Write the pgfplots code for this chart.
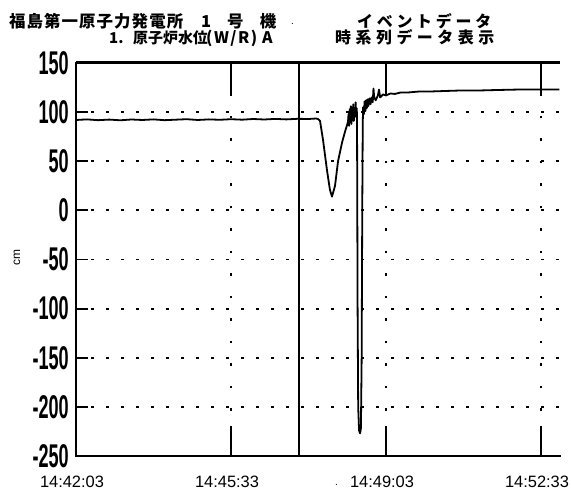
\documentclass[border=0pt]{standalone}
\usepackage{fontspec}
\setmainfont{Liberation Sans}
\newfontfamily\cjk{Noto Sans CJK JP}
\usepackage{pgfplots}
\pgfplotsset{compat=1.18}
\begin{document}
\begin{tikzpicture}
\useasboundingbox (0,0) rectangle (571bp,491bp);
% titles
\node[anchor=base west,inner sep=0pt] at (9bp,463bp) {\cjk\bfseries\fontsize{16.5}{16.5}\selectfont\makebox[174bp][s]{福\hfill 島\hfill 第\hfill 一\hfill 原\hfill 子\hfill 力\hfill 発\hfill 電\hfill 所}};
\node[anchor=base west,inner sep=0pt] at (201bp,463bp) {\cjk\bfseries\fontsize{16.5}{16.5}\selectfont 1};
\node[anchor=base west,inner sep=0pt] at (227bp,463bp) {\cjk\bfseries\fontsize{16.5}{16.5}\selectfont\makebox[49bp][s]{号\hfill 機}};
\node[anchor=base west,inner sep=0pt] at (291bp,466bp) {\fontsize{10}{10}\selectfont .};
\node[anchor=base west,inner sep=0pt] at (357bp,463bp) {\cjk\bfseries\fontsize{16}{16}\selectfont\makebox[134bp][s]{イ\hfill ベ\hfill ン\hfill ト\hfill デ\hfill ー\hfill タ}};
\node[anchor=base west,inner sep=0pt] at (109bp,447bp) {\cjk\bfseries\fontsize{15}{15}\selectfont 1.};
\node[anchor=base west,inner sep=0pt] at (133bp,447bp) {\cjk\bfseries\fontsize{15}{15}\selectfont\makebox[68bp][s]{原\hfill 子\hfill 炉\hfill 水\hfill 位}};
\node[anchor=base west,inner sep=0pt] at (206bp,447bp) {\cjk\bfseries\fontsize{16}{16}\selectfont\makebox[51bp][s]{(\hfill W\hfill /\hfill R\hfill )}};
\node[anchor=base west,inner sep=0pt] at (262bp,447bp) {\cjk\bfseries\fontsize{16}{16}\selectfont A};
\node[anchor=base west,inner sep=0pt] at (335bp,447bp) {\cjk\bfseries\fontsize{16}{16}\selectfont\makebox[159bp][s]{時\hfill 系\hfill 列\hfill デ\hfill ー\hfill タ\hfill 表\hfill 示}};
% y label
\node[rotate=90,inner sep=0pt] at (17bp,233bp) {\fontsize{12}{12}\selectfont cm};
\node[anchor=base west,inner sep=0pt] at (335bp,6bp) {\fontsize{10}{10}\selectfont .};
\begin{axis}[
  at={(76bp,35bp)}, anchor=south west,
  width=484bp, height=393bp, scale only axis,
  xmin=0, xmax=655.7, ymin=-250, ymax=150,
  axis line style={draw=none},
  xtick={0,210,420,630},
  xticklabels={14:42:03,14:45:33,14:49:03,14:52:33},
  xtick pos=both,
  ytick={-250,-200,-150,-100,-50,0,50,100,150},
  ytick pos=left,
  xtick style={/pgfplots/major tick length=30bp, line width=1.8bp, black},
  ytick style={/pgfplots/major tick length=12bp, line width=1.8bp, black},
  grid=major,
  major x grid style={line width=1.8bp, black, dash pattern=on 2.5bp off 20bp},
  major y grid style={line width=1.8bp, black, dash pattern=on 2.5bp off 12.5bp},
  xticklabel style={font=\fontsize{16.5}{16.5}\selectfont, xshift=-4bp, inner sep=0pt, yshift=-20bp},
  yticklabel={\scalebox{0.55}[1]{\fontsize{33}{33}\selectfont\bfseries\pgfmathprintnumber[assume math mode=true]{\tick}}},
  yticklabel style={inner xsep=0pt, xshift=-7bp},
  clip=false,
]
\draw[line width=2.5bp, line cap=rect] (rel axis cs:0,1) -- (rel axis cs:0,0) -- (rel axis cs:1,0);
\draw[line width=3bp] (rel axis cs:0,1) -- (rel axis cs:1,1);
\addplot[black, line width=1.6bp, forget plot] coordinates {(302,-250) (302,150)};
\addplot[black, line width=1.8bp, line join=round] coordinates {
(0,92) (15,92.6) (30,91.8) (45,92.4) (60,91.7) (75,92.5) (90,92) (105,92.6) (120,91.8)
(135,92.3) (150,92.8) (165,92) (180,92.6) (195,92.2) (210,92.8) (225,92.3) (240,93)
(255,92.5) (270,93.1) (285,92.6) (300,93.2) (315,93) (325,93.5) (327.9,93)
(330.6,91) (334.6,72) (340,41) (344,21) (346.8,14) (350.9,25) (355,50) (360.4,69)
(364.4,80) (368.5,90)
(369.2,98) (370,86) (370.8,103) (371.6,90) (372.4,106) (373.2,88) (374,101) (374.8,93)
(375.6,108) (376.4,91) (377.2,104) (378,95) (378.8,110) (379.6,97) (380.3,104) (380.7,96)
(381.5,-100) (382.3,-200) (383.5,-224) (384.8,-227) (386,-222) (387,-150) (387.8,0)
(388.5,90) (389,105)
(390,98) (391,111) (392,101) (393,112) (394,104) (395,113) (396,106) (397.5,114)
(399,108) (400.5,115) (402,110) (403,124) (404,115) (406,112) (409,117) (410.5,123) (412,115)
(416,118) (420,117) (426,119) (432,118.5) (440,120) (450,120) (465,121) (480,121)
(500,121.5) (520,122) (545,122) (570,122.5) (600,123) (630,123) (655,123)
};
\end{axis}
\end{tikzpicture}
\end{document}
